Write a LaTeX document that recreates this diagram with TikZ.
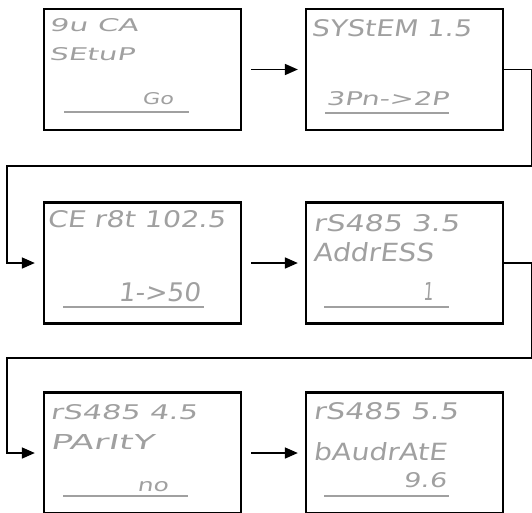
\documentclass[tikz,border=0pt]{standalone}
\usepackage{fontspec}
\usepackage{graphicx}
\usetikzlibrary{arrows.meta}
\newfontfamily\lcdfont{DejaVu Sans}[FakeSlant=0.12]
\definecolor{lcdgray}{RGB}{160,160,160}
\newcommand{\lcdtext}[3]{\resizebox{#1pt}{#2pt}{\lcdfont #3}}
\begin{document}
\begin{tikzpicture}[x=1pt,y=-1pt,
  box/.style={draw=black,line width=2.3pt,minimum width=197pt,minimum height=121pt,inner sep=0pt},
  conn/.style={line width=1.7pt,draw=black},
  arr/.style={conn,-{Triangle[length=13pt,width=11pt]}},
  lcd/.style={anchor=south west,inner sep=0pt,text=lcdgray},
  uline/.style={draw=lcdgray,line width=2pt}]
\useasboundingbox (0,0) rectangle (532,512);
\clip (0,0) rectangle (532,512);
% boxes
\node[box] (b1) at (142.5,69.5) {};
\node[box] (b2) at (404.5,69.5) {};
\node[box] (b3) at (142.5,263) {};
\node[box] (b4) at (404.5,263) {};
\node[box] (b5) at (142.5,453) {};
\node[box] (b6) at (404.5,453) {};
% texts
\node[lcd] (t1a) at (49,32) {\lcdtext{89}{13}{9u CA}};
\node[lcd] (t1b) at (49,61) {\lcdtext{85}{13}{SEtuP}};
\node[lcd] (t1c) at (142,105) {\lcdtext{31}{12}{Go}};
\draw[uline] (64,112) -- (189,112);
\node[lcd] (t2a) at (311,37) {\lcdtext{160}{17}{SYStEM 1.5}};
\node[lcd] (t2b) at (326,106) {\lcdtext{122}{14}{3Pn->2P}};
\draw[uline] (325,113) -- (449,113);
\node[lcd] (t3a) at (47,228) {\lcdtext{178}{17}{CE r8t 102.5}};
\node[lcd] (t3b) at (118,302) {\lcdtext{82}{19}{1->50}};
\draw[uline] (63,307) -- (204,307);
\node[lcd] (t4a) at (313,232) {\lcdtext{146}{17}{rS485 3.5}};
\node[lcd] (t4b) at (313,262) {\lcdtext{120}{19}{AddrESS}};
\node[lcd] (t4c) at (423,301) {\lcdtext{10}{18}{1}};
\draw[uline] (324,307) -- (449,307);
\node[lcd] (t5a) at (50,420) {\lcdtext{147}{15}{rS485 4.5}};
\node[lcd] (t5b) at (50,450) {\lcdtext{103}{15}{PArItY}};
\node[lcd] (t5c) at (137,492) {\lcdtext{31}{10}{no}};
\draw[uline] (63,496) -- (188,496);
\node[lcd] (t6a) at (313,420) {\lcdtext{145}{17}{rS485 5.5}};
\node[lcd] (t6b) at (313,461) {\lcdtext{133}{18}{bAudrAtE}};
\node[lcd] (t6c) at (403,488) {\lcdtext{43}{15}{9.6}};
\draw[uline] (324,496) -- (449,496);
% connectors
\coordinate (ra) at (531.6,166);
\coordinate (la) at (7.3,166);
\coordinate (rb) at (531.6,358.3);
\coordinate (lb) at (7.3,358.3);
\draw[arr,shorten <=9pt,shorten >=7pt] (b1.east) -- (b2.west);
\draw[arr,shorten <=9pt,shorten >=7pt] (b3.east) -- (b4.west);
\draw[arr,shorten <=9pt,shorten >=7pt] (b5.east) -- (b6.west);
\draw[arr,shorten >=8pt] (b2.east) -- (b2.east -| ra) -- (ra) -- (la) -- (la |- b3.west) -- (b3.west);
\draw[arr,shorten >=8pt] (b4.east) -- (b4.east -| rb) -- (rb) -- (lb) -- (lb |- b5.west) -- (b5.west);
\end{tikzpicture}
\end{document}
